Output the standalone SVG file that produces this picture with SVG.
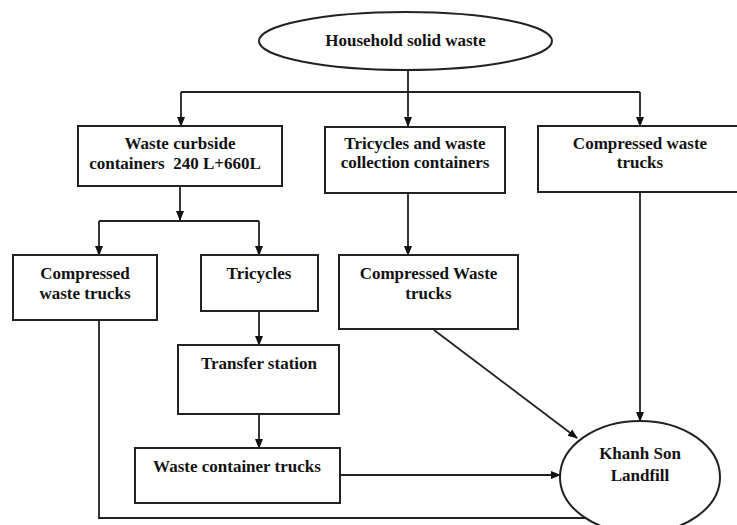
<svg xmlns="http://www.w3.org/2000/svg" width="737" height="525" viewBox="0 0 737 525">
<style>
.n{fill:#fff;stroke:#222;stroke-width:2}
.t{font-family:"Liberation Serif","Times New Roman",serif;font-weight:bold;font-size:17px;fill:#111;text-anchor:middle}
.c{fill:none;stroke:#222;stroke-width:1.8}
</style>
<defs>
<marker id="ah" markerWidth="10" markerHeight="10" refX="9" refY="5" orient="auto" markerUnits="userSpaceOnUse">
<path d="M0,1 L10,5 L0,9 Z" fill="#111"/>
</marker>
</defs>
<rect width="737" height="525" fill="#fff"/>
<g id="connectors">
<path class="c" d="M408,70 V126" marker-end="url(#ah)"/>
<path class="c" d="M181,92 H640"/>
<path class="c" d="M181,92 V126" marker-end="url(#ah)"/>
<path class="c" d="M640,92 V126" marker-end="url(#ah)"/>
<path class="c" d="M180,186 V220" marker-end="url(#ah)"/>
<path class="c" d="M99,221 H259"/>
<path class="c" d="M99,221 V255" marker-end="url(#ah)"/>
<path class="c" d="M259,221 V255" marker-end="url(#ah)"/>
<path class="c" d="M408,193 V255" marker-end="url(#ah)"/>
<path class="c" d="M259,311 V345" marker-end="url(#ah)"/>
<path class="c" d="M259,414 V448" marker-end="url(#ah)"/>
<path class="c" d="M640,192 V421" marker-end="url(#ah)"/>
<path class="c" d="M434,330 L577,438" marker-end="url(#ah)"/>
<path class="c" d="M340,475 H560" marker-end="url(#ah)"/>
<path class="c" d="M99,320 V518 H588"/>
</g>
<g id="household">
<ellipse class="n" cx="405.5" cy="41" rx="146.5" ry="29"/>
<text class="t" x="405.5" y="46">Household solid waste</text>
</g>
<g id="curbside">
<rect class="n" x="78" y="126" width="204" height="60"/>
<text class="t" x="180" y="149">Waste curbside</text>
<text class="t" x="175" y="169" xml:space="preserve">containers  240 L+660L</text>
</g>
<g id="tricycles-containers">
<rect class="n" x="325" y="127" width="180" height="66"/>
<text class="t" x="415" y="149">Tricycles and waste</text>
<text class="t" x="415" y="168">collection containers</text>
</g>
<g id="compressed-right">
<rect class="n" x="538" y="126" width="210" height="66"/>
<text class="t" x="640" y="149">Compressed waste</text>
<text class="t" x="640" y="168">trucks</text>
</g>
<g id="compressed-left">
<rect class="n" x="13" y="255" width="144" height="65"/>
<text class="t" x="85" y="279">Compressed</text>
<text class="t" x="85" y="299">waste trucks</text>
</g>
<g id="tricycles">
<rect class="n" x="201" y="255" width="117" height="56"/>
<text class="t" x="259" y="279">Tricycles</text>
</g>
<g id="compressed-middle">
<rect class="n" x="339" y="255" width="179" height="74"/>
<text class="t" x="428.5" y="279">Compressed Waste</text>
<text class="t" x="428.5" y="299">trucks</text>
</g>
<g id="transfer">
<rect class="n" x="178" y="345" width="161" height="69"/>
<text class="t" x="259" y="369">Transfer station</text>
</g>
<g id="container-trucks">
<rect class="n" x="135" y="448" width="205" height="55"/>
<text class="t" x="237" y="472">Waste container trucks</text>
</g>
<g id="landfill">
<ellipse class="n" cx="640" cy="477" rx="80" ry="56"/>
<text class="t" x="640" y="459">Khanh Son</text>
<text class="t" x="640" y="481">Landfill</text>
</g>
</svg>
